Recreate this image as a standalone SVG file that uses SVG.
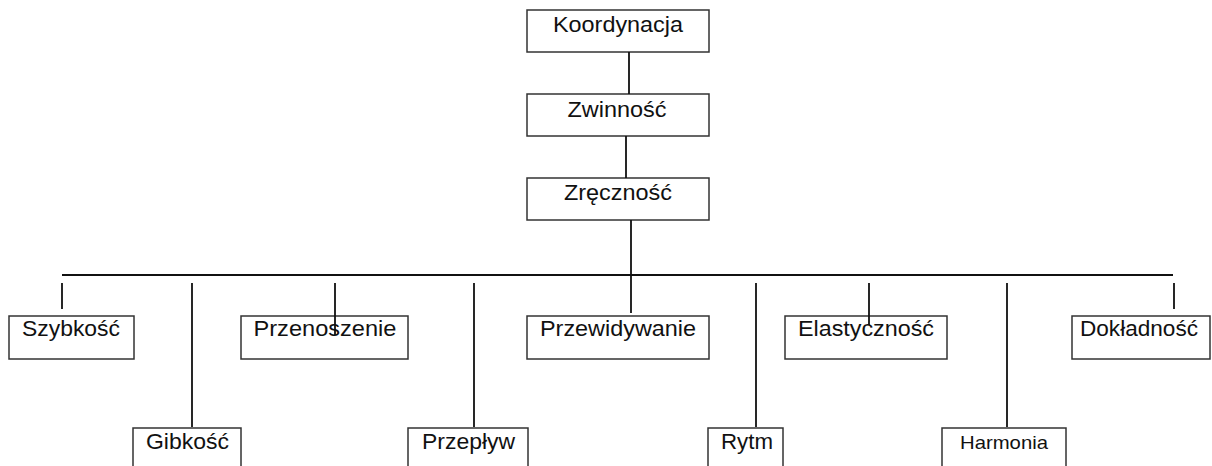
<svg xmlns="http://www.w3.org/2000/svg" width="1212" height="466" viewBox="0 0 1212 466">
<style>
.box{fill:#fff;stroke:#333;stroke-width:1.5}
.t{font-family:"Liberation Sans",Arial,sans-serif;font-size:22px;fill:#111;text-anchor:middle}
.c{stroke:#111;stroke-width:1.8;fill:none}
</style>
<rect width="1212" height="466" fill="#fff"/>
<g id="koordynacja"><rect class="box" x="527" y="10" width="182" height="42"/><text class="t" x="618" y="32" textLength="130" lengthAdjust="spacingAndGlyphs">Koordynacja</text></g>
<g id="zwinnosc"><rect class="box" x="527" y="94" width="182" height="42"/><text class="t" x="617" y="117" textLength="99" lengthAdjust="spacingAndGlyphs">Zwinność</text></g>
<g id="zrecznosc"><rect class="box" x="527" y="178" width="182" height="42"/><text class="t" x="618" y="200" textLength="108" lengthAdjust="spacingAndGlyphs">Zręczność</text></g>
<g id="szybkosc"><rect class="box" x="9" y="316" width="125" height="43"/><text class="t" x="71" y="336" textLength="98" lengthAdjust="spacingAndGlyphs">Szybkość</text></g>
<g id="przenoszenie"><rect class="box" x="241" y="316" width="167" height="43"/><text class="t" x="325" y="336" textLength="143" lengthAdjust="spacingAndGlyphs">Przenoszenie</text></g>
<g id="przewidywanie"><rect class="box" x="527" y="316" width="182" height="43"/><text class="t" x="618" y="336" textLength="156" lengthAdjust="spacingAndGlyphs">Przewidywanie</text></g>
<g id="elastycznosc"><rect class="box" x="785" y="316" width="162" height="43"/><text class="t" x="866" y="336" textLength="136" lengthAdjust="spacingAndGlyphs">Elastyczność</text></g>
<g id="dokladnosc"><rect class="box" x="1072" y="316" width="138" height="43"/><text class="t" x="1139" y="336" textLength="118" lengthAdjust="spacingAndGlyphs">Dokładność</text></g>
<g id="gibkosc"><rect class="box" x="133" y="428" width="108" height="50"/><text class="t" x="187.5" y="449" textLength="83" lengthAdjust="spacingAndGlyphs">Gibkość</text></g>
<g id="przeplyw"><rect class="box" x="408" y="428" width="120" height="50"/><text class="t" x="468.5" y="449" textLength="93" lengthAdjust="spacingAndGlyphs">Przepływ</text></g>
<g id="rytm"><rect class="box" x="708" y="428" width="75" height="50"/><text class="t" x="747" y="449" textLength="52" lengthAdjust="spacingAndGlyphs">Rytm</text></g>
<g id="harmonia"><rect class="box" x="942" y="428" width="124" height="50"/><text class="t" x="1004" y="449" style="font-size:19px" textLength="88" lengthAdjust="spacingAndGlyphs">Harmonia</text></g>
<g id="connectors">
<path class="c" d="M629 52V94M626 136V178M631 220V275M62 275H1173M631 275V313"/>
<path class="c" d="M62 283V309M192 283V427M335 283V335M474 283V427M756 283V427M869 283V325M1007 283V427M1174 283V309"/>
</g>
</svg>
